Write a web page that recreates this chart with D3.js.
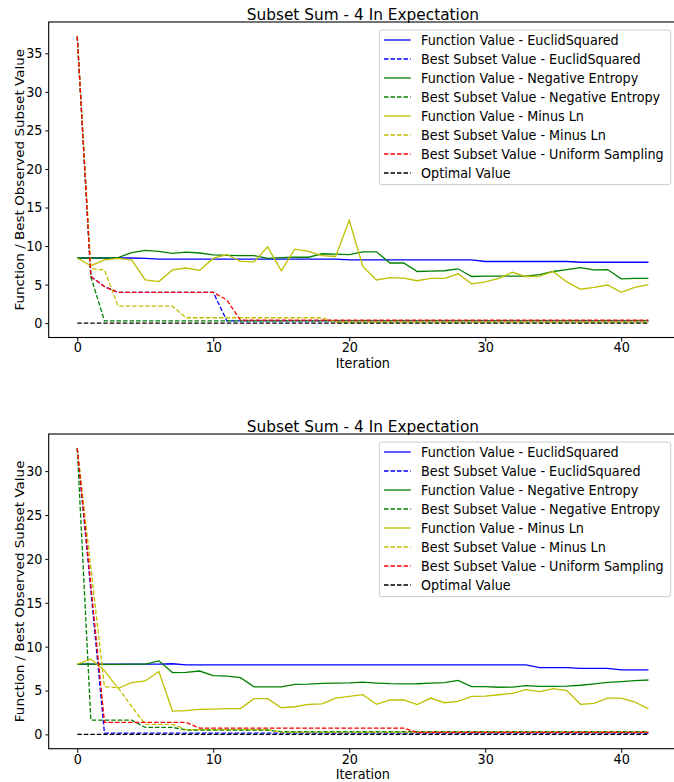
<!DOCTYPE html>
<html>
<head>
<meta charset="utf-8">
<script src="https://cdn.jsdelivr.net/npm/d3@7"></script>
<style>
  body { margin: 0; background: #fff; }
  text { font-family: "DejaVu Sans", sans-serif; fill: #000; }
</style>
</head>
<body>
<div id="chart"></div>
<script>
const width = 674, height = 782;
const squeeze = 0.92; // the reference text is a bit narrow

const iterations = d3.range(43);
const xTicks = [0, 10, 20, 30, 40];
const yTicksTop = [0, 5, 10, 15, 20, 25, 30, 35];
const yTicksBottom = [0, 5, 10, 15, 20, 25, 30];

const titleText = "Subset Sum - 4 In Expectation";
const xLabel = "Iteration";
const yLabel = "Function / Best Observed Subset Value";

const seriesNames = [
  "Function Value - EuclidSquared",
  "Best Subset Value - EuclidSquared",
  "Function Value - Negative Entropy",
  "Best Subset Value - Negative Entropy",
  "Function Value - Minus Ln",
  "Best Subset Value - Minus Ln",
  "Best Subset Value - Uniform Sampling",
  "Optimal Value"
];
const seriesColors = ["#0000ff", "#0000ff", "#008000", "#008000", "#bfbf00", "#bfbf00", "#ff0000", "#000000"];
const seriesDashed = [false, true, false, true, false, true, true, true];

// top panel
const topFuncEuclid = [8.45,8.45,8.45,8.45,8.45,8.4,8.3,8.3,8.3,8.3,8.3,8.3,8.3,8.3,8.3,8.3,8.3,8.3,8.3,8.3,
  8.2,8.2,8.2,8.2,8.2,8.2,8.2,8.2,8.2,8.2,8.0,8.0,8.0,8.0,8.0,8.0,8.0,7.9,7.9,7.9,7.9,7.9,7.9];
const topBestEuclid = [37.2,6.05,4.75,4.0,4.0,4.0,4.0,4.0,4.0,4.0,4.0,0.3,0.3,0.3,0.3,0.3,0.3,0.3,0.3,0.3,
  0.3,0.3,0.3,0.3,0.3,0.3,0.3,0.3,0.3,0.3,0.3,0.3,0.3,0.3,0.3,0.3,0.3,0.3,0.3,0.3,0.3,0.3,0.3];
const topFuncEntropy = [8.45,8.45,8.45,8.5,9.15,9.45,9.3,9.05,9.2,9.1,8.85,8.8,8.75,8.75,8.4,8.5,8.55,8.55,9.0,8.95,
  8.9,9.25,9.25,7.8,7.8,6.7,6.75,6.8,7.05,6.05,6.1,6.1,6.1,6.1,6.3,6.7,6.95,7.2,6.9,6.95,5.75,5.8,5.8];
const topBestEntropy = [37.2,6.0,0.3,0.3,0.3,0.3,0.3,0.3,0.3,0.3,0.3,0.3,0.3,0.3,0.3,0.3,0.3,0.3,0.3,0.3,
  0.3,0.3,0.3,0.3,0.3,0.3,0.3,0.3,0.3,0.3,0.3,0.3,0.3,0.3,0.3,0.3,0.3,0.3,0.3,0.3,0.3,0.3,0.3];
const topFuncMinusLn = [8.45,7.45,8.2,8.4,8.2,5.6,5.4,6.9,7.15,6.85,8.4,8.9,8.0,7.95,9.9,6.8,9.6,9.3,8.75,8.65,
  13.35,7.35,5.6,5.9,5.85,5.5,5.8,5.8,6.4,5.1,5.35,5.8,6.6,6.05,6.1,6.7,5.35,4.4,4.65,4.95,4.0,4.65,5.0];
const topBestMinusLn = [37.2,7.1,6.9,2.2,2.2,2.2,2.2,2.2,0.7,0.7,0.7,0.7,0.7,0.7,0.7,0.7,0.7,0.7,0.7,0.15,
  0.15,0.15,0.15,0.15,0.15,0.15,0.15,0.15,0.15,0.15,0.15,0.15,0.15,0.15,0.15,0.15,0.15,0.15,0.15,0.15,0.15,0.15,0.15];
const topBestUniform = [37.2,6.05,4.75,4.0,4.0,4.0,4.0,4.0,4.0,4.0,4.0,3.0,0.4,0.4,0.4,0.4,0.4,0.4,0.4,0.4,
  0.4,0.4,0.4,0.4,0.4,0.4,0.4,0.4,0.4,0.4,0.4,0.4,0.4,0.4,0.4,0.4,0.4,0.4,0.4,0.4,0.4,0.4,0.4];
const topOptimal = [0,0,0,0,0,0,0,0,0,0,0,0,0,0,0,0,0,0,0,0,0,0,0,0,0,0,0,0,0,0,0,0,0,0,0,0,0,0,0,0,0,0,0];

// bottom panel
const botFuncEuclid = [8.0,8.0,8.0,8.0,8.0,8.0,8.0,8.05,7.92,7.92,7.92,7.92,7.92,7.92,7.92,7.92,7.92,7.92,7.92,7.92,
  7.92,7.92,7.92,7.92,7.92,7.92,7.92,7.92,7.92,7.92,7.92,7.92,7.92,7.92,7.6,7.6,7.6,7.52,7.52,7.52,7.35,7.35,7.35];
const botBestEuclid = [32.6,16.4,0.15,0.15,0.15,0.15,0.15,0.15,0.15,0.15,0.15,0.15,0.15,0.15,0.15,0.15,0.15,0.15,0.15,0.15,
  0.15,0.15,0.15,0.15,0.15,0.15,0.15,0.15,0.15,0.15,0.15,0.15,0.15,0.15,0.15,0.15,0.15,0.15,0.15,0.15,0.15,0.15,0.15];
const botFuncEntropy = [8.0,8.0,7.97,7.97,8.0,8.0,8.38,7.05,7.07,7.22,6.7,6.65,6.47,5.42,5.42,5.42,5.7,5.72,5.82,5.85,
  5.86,5.95,5.85,5.78,5.75,5.77,5.85,5.9,6.15,5.45,5.45,5.37,5.38,5.55,5.47,5.47,5.5,5.6,5.75,5.92,6.02,6.12,6.2];
const botBestEntropy = [32.6,1.63,1.63,1.63,1.63,0.8,0.8,0.8,0.5,0.5,0.5,0.5,0.5,0.5,0.5,0.3,0.3,0.3,0.3,0.3,
  0.3,0.3,0.3,0.3,0.3,0.3,0.3,0.3,0.3,0.3,0.3,0.3,0.3,0.3,0.3,0.3,0.3,0.3,0.3,0.3,0.3,0.3,0.3];
const botFuncMinusLn = [8.0,8.57,7.27,5.25,5.9,6.09,7.16,2.66,2.7,2.85,2.88,2.93,2.95,4.07,4.07,3.04,3.15,3.42,3.47,4.14,
  4.33,4.52,3.43,3.92,3.92,3.39,4.14,3.61,3.77,4.33,4.35,4.52,4.67,5.1,4.87,5.21,5.0,3.43,3.54,4.14,4.14,3.69,2.9];
const botBestMinusLn = [32.6,19.0,5.44,5.3,3.2,1.14,1.14,1.14,0.55,0.55,0.55,0.55,0.55,0.55,0.55,0.25,0.25,0.25,0.25,0.25,
  0.25,0.25,0.25,0.25,0.25,0.25,0.25,0.25,0.25,0.25,0.25,0.25,0.25,0.25,0.25,0.25,0.25,0.25,0.25,0.25,0.25,0.25,0.25];
const botBestUniform = [32.6,17.0,1.37,1.37,1.37,1.37,1.37,1.37,1.37,0.72,0.72,0.72,0.72,0.72,0.72,0.72,0.72,0.72,0.72,0.72,
  0.72,0.72,0.72,0.72,0.72,0.22,0.22,0.22,0.22,0.22,0.22,0.22,0.22,0.22,0.22,0.22,0.22,0.22,0.22,0.22,0.22,0.22,0.22];
const botOptimal = [0,0,0,0,0,0,0,0,0,0,0,0,0,0,0,0,0,0,0,0,0,0,0,0,0,0,0,0,0,0,0,0,0,0,0,0,0,0,0,0,0,0,0];

const panels = [
  { top: 22, bottom: 337.5, yTicks: yTicksTop,
    series: [topFuncEuclid, topBestEuclid, topFuncEntropy, topBestEntropy, topFuncMinusLn, topBestMinusLn, topBestUniform, topOptimal] },
  { top: 434, bottom: 748.7, yTicks: yTicksBottom,
    series: [botFuncEuclid, botBestEuclid, botFuncEntropy, botBestEntropy, botFuncMinusLn, botBestMinusLn, botBestUniform, botOptimal] }
];

const left = 48.7, right = 677; // right spine falls just outside the picture

const svg = d3.select("#chart")
  .append("svg")
  .attr("width", width)
  .attr("height", height);

// squeezed text helper
function sText(g, x, y, str, size, anchor) {
  return g.append("text")
    .attr("transform", `translate(${x},${y}) scale(${squeeze},1)`)
    .attr("text-anchor", anchor || "start")
    .style("font-size", size + "px")
    .text(str);
}

panels.forEach(p => {
  const g = svg.append("g");

  const x = d3.scaleLinear().domain([-2.1, 44.1]).range([left, right]);

  const all = p.series.flat();
  const lo = d3.min(all), hi = d3.max(all), pad = (hi - lo) * 0.05;
  const y = d3.scaleLinear().domain([lo - pad, hi + pad]).range([p.bottom, p.top]);

  const line = d3.line()
    .x((d, i) => x(iterations[i]))
    .y(d => y(d));

  p.series.forEach((s, k) => {
    g.append("path")
      .datum(s)
      .attr("d", line)
      .attr("fill", "none")
      .attr("stroke", seriesColors[k])
      .attr("stroke-width", 1.3)
      .attr("stroke-dasharray", seriesDashed[k] ? "4.5,2" : null);
  });

  // x axis
  const xa = g.append("g")
    .attr("transform", `translate(0,${p.bottom})`)
    .call(d3.axisBottom(x).tickValues(xTicks).tickSize(4).tickPadding(1).tickSizeOuter(0));
  xa.select(".domain").remove();
  xa.selectAll("text")
    .attr("transform", `scale(${squeeze},1)`)
    .style("font-size", "13.9px")
    .attr("font-family", null);
  xa.selectAll("line").attr("stroke", "#000").attr("stroke-width", 1);

  // y axis
  const ya = g.append("g")
    .attr("transform", `translate(${left},0)`)
    .call(d3.axisLeft(y).tickValues(p.yTicks).tickSize(3.3).tickPadding(3).tickSizeOuter(0));
  ya.select(".domain").remove();
  ya.selectAll("text")
    .attr("x", function() { return +d3.select(this).attr("x") / squeeze; })
    .attr("transform", `scale(${squeeze},1)`)
    .style("font-size", "13.9px")
    .attr("font-family", null);
  ya.selectAll("line").attr("stroke", "#000").attr("stroke-width", 1);

  // frame
  g.append("rect")
    .attr("x", left).attr("y", p.top)
    .attr("width", right - left).attr("height", p.bottom - p.top)
    .attr("fill", "none").attr("stroke", "#000").attr("stroke-width", 1.1);

  sText(g, (left + right) / 2, p.top - 2, titleText, 16.7, "middle");
  sText(g, (left + right) / 2, p.bottom + 30, xLabel, 13.9, "middle");

  g.append("text")
    .attr("transform", `translate(24,${(p.top + p.bottom) / 2}) scale(${squeeze},1) rotate(-90)`)
    .attr("text-anchor", "middle")
    .style("font-size", "13.5px")
    .text(yLabel);

  // legend
  const lg = g.append("g").attr("transform", `translate(379.3,${p.top + 8})`);
  lg.append("rect")
    .attr("width", 291.4).attr("height", 154.7)
    .attr("rx", 2.5)
    .attr("fill", "#fff").attr("fill-opacity", 0.8)
    .attr("stroke", "#cccccc").attr("stroke-width", 1);

  seriesNames.forEach((name, k) => {
    const cy = 10 + k * 19;
    lg.append("line")
      .attr("x1", 4.7).attr("x2", 31.4)
      .attr("y1", cy).attr("y2", cy)
      .attr("stroke", seriesColors[k])
      .attr("stroke-width", 1.3)
      .attr("stroke-dasharray", seriesDashed[k] ? "4.5,2" : null);
    sText(lg, 41.7, cy + 5, name, 13.9, "start");
  });
});
</script>
</body>
</html>
